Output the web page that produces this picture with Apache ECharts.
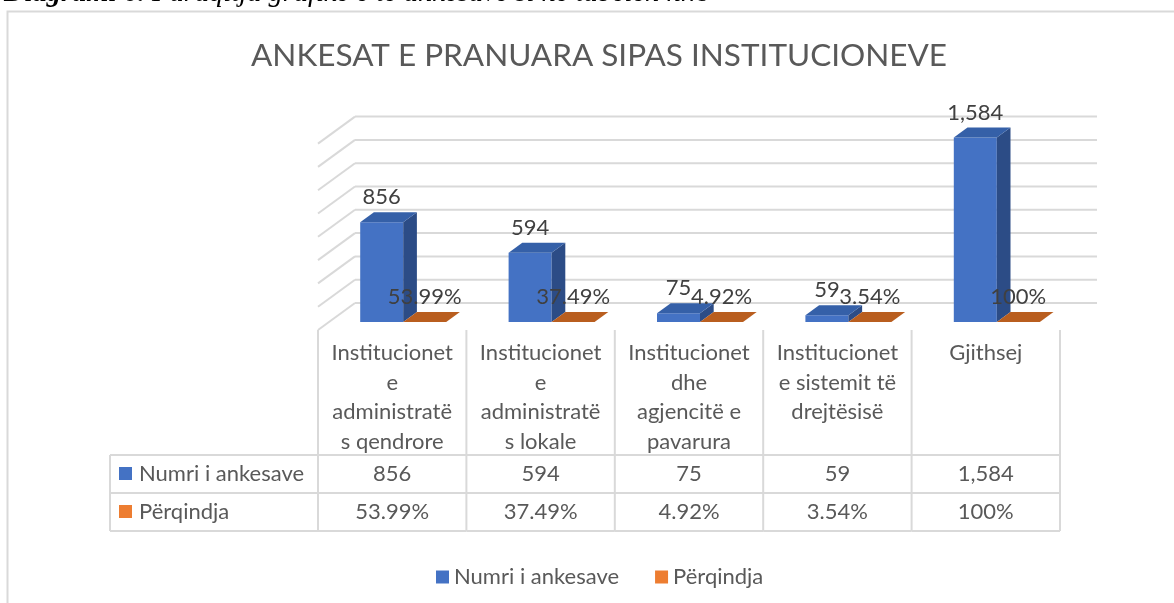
<!DOCTYPE html>
<html>
<head>
<meta charset="utf-8">
<script src="https://cdn.jsdelivr.net/npm/echarts@6/dist/echarts.min.js"></script>
<style>
  html, body { margin: 0; padding: 0; background: #fff; }
  #chart { width: 1174px; height: 603px; }
</style>
</head>
<body>
<div id="chart"></div>
<script>
// --- data ---
const categories = [
  'Institucionet\ne\nadministratë\ns qendrore',
  'Institucionet\ne\nadministratë\ns lokale',
  'Institucionet\ndhe\nagjencitë e\npavarura',
  'Institucionet\ne sistemit të\ndrejtësisë',
  'Gjithsej'
];
const seriesNames = ['Numri i ankesave', 'Përqindja'];
const countValues = [856, 594, 75, 59, 1584];
const shareValues = [0.5399, 0.3749, 0.0492, 0.0354, 1];
const gridTicks = [0, 200, 400, 600, 800, 1000, 1200, 1400, 1600];

const FONT = 'Lato';
const FS = 22;
const TXT = '#595959';
const LINE = '#D9D9D9';
const BLUE = ['#4472C4', '#3560A8', '#2C4C86'];   // front, top, side
const ORANGE = ['#ED7D31', '#B95E1F', '#A4521A'];

// fake 3d: oblique offsets from the front plane
const WALL = [37, -27];
const BAR_FRONT = [11, -8];
const BAR_DEPTH = [13.7, -10];
const BAR_W = 43;
// table rows below the floor
const ROW_HEAD_W = 208;
const HEAD_H = 125, ROW_H = 38;

const fmtCount = v => v.toLocaleString('en-US');
const fmtShare = v => +(v * 100).toFixed(2) + '%';

function barRenderer(leftSide, shades, fmt) {
  return function (params, api) {
    const v = api.value(1);
    const top = api.coord([api.value(0), v]);
    const base = api.coord([api.value(0), 0]);
    const x0 = top[0] + BAR_FRONT[0] - (leftSide ? BAR_W : 0);
    const x1 = x0 + BAR_W;
    const yT = top[1] + BAR_FRONT[1];
    const yB = base[1] + BAR_FRONT[1];
    const dx = BAR_DEPTH[0], dy = BAR_DEPTH[1];
    return {
      type: 'group',
      children: [
        { type: 'rect', shape: { x: x0, y: yT, width: BAR_W, height: yB - yT }, style: { fill: shades[0] } },
        { type: 'polygon', shape: { points: [[x1, yT], [x1 + dx, yT + dy], [x1 + dx, yB + dy], [x1, yB]] }, style: { fill: shades[2] } },
        { type: 'polygon', shape: { points: [[x0, yT], [x0 + dx, yT + dy], [x1 + dx, yT + dy], [x1, yT]] }, style: { fill: shades[1] } },
        {
          type: 'text', z2: 10,
          style: {
            text: fmt(v), x: (x0 + x1) / 2, y: yT + dy - 15,
            align: 'center', verticalAlign: 'middle',
            fontFamily: FONT, fontSize: FS, fill: '#404040'
          }
        }
      ]
    };
  };
}

function wallRenderer(params, api) {
  const cs = params.coordSys;
  const y = api.coord([0, api.value(1)])[1];
  const st = { stroke: LINE, lineWidth: 2 };
  return {
    type: 'group',
    children: [
      { type: 'line', shape: { x1: cs.x, y1: y, x2: cs.x + WALL[0], y2: y + WALL[1] }, style: st },
      { type: 'line', shape: { x1: cs.x + WALL[0], y1: y + WALL[1], x2: cs.x + cs.width + WALL[0], y2: y + WALL[1] }, style: st }
    ]
  };
}

function tableRenderer(params, api) {
  const cs = params.coordSys;
  const i = api.value(0);
  const cx = api.coord([i, 0])[0];
  const w = api.size([1, 0])[0];
  const x0 = cx - w / 2, x1 = cx + w / 2;
  const y0 = cs.y + cs.height;
  const r1 = y0 + HEAD_H, r2 = r1 + ROW_H, r3 = r2 + ROW_H;
  const st = { stroke: LINE, lineWidth: 2 };
  const txt = (s, x, y, extra) => ({
    type: 'text',
    style: Object.assign({ text: s, x: x, y: y, align: 'center', verticalAlign: 'middle',
      fontFamily: FONT, fontSize: FS, fill: TXT }, extra || {})
  });
  const kids = [
    { type: 'line', shape: { x1: x0, y1: y0, x2: x0, y2: r3 }, style: st },
    { type: 'line', shape: { x1: x0, y1: r1, x2: x1, y2: r1 }, style: st },
    { type: 'line', shape: { x1: x0, y1: r2, x2: x1, y2: r2 }, style: st },
    { type: 'line', shape: { x1: x0, y1: r3, x2: x1, y2: r3 }, style: st },
    txt(categories[i], cx, y0 + 8.5, { verticalAlign: 'top', lineHeight: 29.5 }),
    txt(fmtCount(api.value(1)), cx, r1 + 18.5),
    txt(fmtShare(api.value(2)), cx, r2 + 18.5)
  ];
  if (i === categories.length - 1) {
    kids.push({ type: 'line', shape: { x1: x1, y1: y0, x2: x1, y2: r3 }, style: st });
  }
  if (i === 0) {
    const hx = x0 - ROW_HEAD_W;
    kids.push(
      { type: 'line', shape: { x1: hx, y1: r1, x2: x0, y2: r1 }, style: st },
      { type: 'line', shape: { x1: hx, y1: r2, x2: x0, y2: r2 }, style: st },
      { type: 'line', shape: { x1: hx, y1: r3, x2: x0, y2: r3 }, style: st },
      { type: 'line', shape: { x1: hx, y1: r1, x2: hx, y2: r3 }, style: st },
      { type: 'rect', shape: { x: hx + 9, y: r1 + 12, width: 13, height: 13 }, style: { fill: BLUE[0] } },
      { type: 'rect', shape: { x: hx + 9, y: r2 + 12, width: 13, height: 13 }, style: { fill: ORANGE[0] } },
      txt(seriesNames[0], hx + 29, r1 + 18.5, { align: 'left' }),
      txt(seriesNames[1], hx + 29, r2 + 18.5, { align: 'left' })
    );
  }
  return { type: 'group', children: kids };
}

const chart = echarts.init(document.getElementById('chart'), null, { renderer: 'canvas' });

chart.setOption({
  animation: false,
  backgroundColor: '#fff',
  title: {
    text: 'ANKESAT E PRANUARA SIPAS INSTITUCIONEVE',
    left: 594, top: 35, textAlign: 'center',
    textStyle: { fontFamily: FONT, fontSize: 31.5, fontWeight: 'normal', color: TXT }
  },
  graphic: [
    {
      type: 'rect', z: -1, silent: true,
      shape: { x: 7.5, y: 11.5, width: 1300, height: 700 },
      style: { fill: '#fff', stroke: LINE, lineWidth: 2 }
    },
    {
      type: 'text', left: 4, top: -21,
      style: {
        text: '{b|Diagrami 6.} Paraqitja grafike e të ankesave si në tabelën nr.8',
        fontFamily: 'Liberation Serif', fontStyle: 'italic', fontSize: 28.5, fill: '#000',
        rich: { b: { fontFamily: 'Liberation Serif', fontStyle: 'italic', fontWeight: 'bold', fontSize: 28.5 } }
      }
    }
  ],
  legend: {
    data: seriesNames,
    left: 431, top: 561,
    icon: 'rect', itemWidth: 13, itemHeight: 13, itemGap: 36,
    textStyle: { fontFamily: FONT, fontSize: FS, color: TXT }
  },
  grid: { left: 318, right: 114, top: 143.6, bottom: 273 },
  xAxis: {
    type: 'category', data: categories,
    axisLine: { show: false }, axisTick: { show: false }, axisLabel: { show: false }
  },
  yAxis: {
    type: 'value', min: 0, max: 1600, interval: 200,
    axisLine: { show: false }, axisTick: { show: false }, axisLabel: { show: false },
    splitLine: { show: false }
  },
  series: [
    {
      type: 'custom', name: 'wall', silent: true, z: 1,
      data: gridTicks.map(t => [0, t]),
      renderItem: wallRenderer
    },
    {
      type: 'custom', name: 'table', silent: true, z: 1,
      data: categories.map((c, i) => [i, countValues[i], shareValues[i]]),
      encode: { x: 0, y: 1 },
      renderItem: tableRenderer
    },
    {
      type: 'custom', name: seriesNames[0], z: 2,
      itemStyle: { color: BLUE[0] },
      data: countValues.map((v, i) => [i, v]),
      renderItem: barRenderer(true, BLUE, fmtCount)
    },
    {
      type: 'custom', name: seriesNames[1], z: 3,
      itemStyle: { color: ORANGE[0] },
      data: shareValues.map((v, i) => [i, v]),
      renderItem: barRenderer(false, ORANGE, fmtShare)
    }
  ]
});
</script>
</body>
</html>
